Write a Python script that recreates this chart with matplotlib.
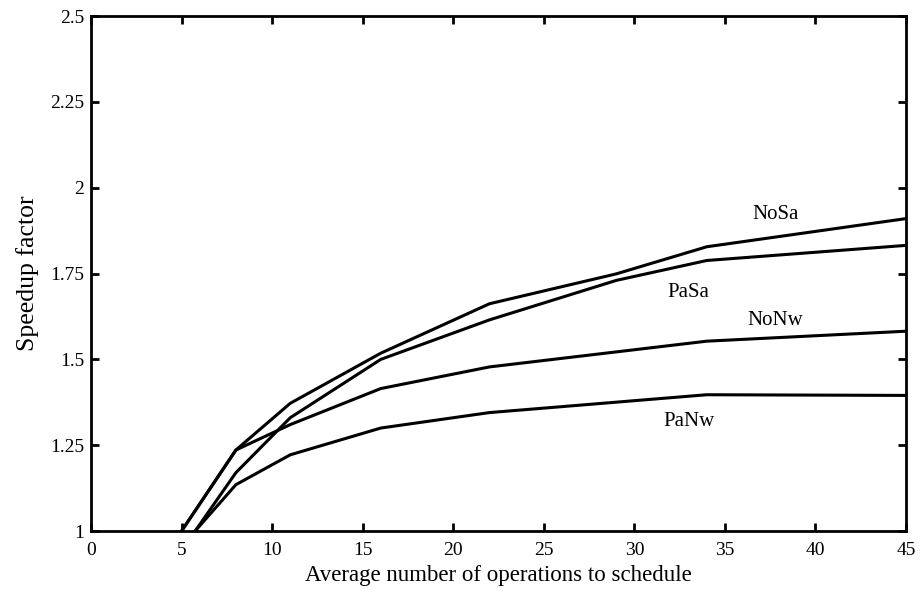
import matplotlib.pyplot as plt

plt.rcParams['font.family'] = ['Liberation Serif', 'DejaVu Serif']

# curve data
nosa_x = [5, 8, 11, 16, 22, 29, 34, 45]
nosa_y = [1.0, 1.236, 1.372, 1.518, 1.662, 1.749, 1.828, 1.91]

pasa_x = [5.75, 8, 11, 16, 22, 29, 34, 45]
pasa_y = [1.0, 1.17, 1.33, 1.50, 1.615, 1.73, 1.788, 1.832]

nonw_x = [5, 8, 11, 16, 22, 34, 45]
nonw_y = [1.0, 1.236, 1.31, 1.415, 1.478, 1.553, 1.582]

panw_x = [5.75, 8, 11, 16, 22, 34, 45]
panw_y = [1.0, 1.135, 1.222, 1.30, 1.345, 1.397, 1.395]

labels = ["NoSa", "PaSa", "NoNw", "PaNw"]
label_x = [37.8, 33.0, 37.8, 33.0]
label_y = [1.922, 1.695, 1.612, 1.318]

xticks = [0, 5, 10, 15, 20, 25, 30, 35, 40, 45]
yticks = [1, 1.25, 1.5, 1.75, 2, 2.25, 2.5]
ytick_labels = ["1", "1.25", "1.5", "1.75", "2", "2.25", "2.5"]

fig = plt.figure(figsize=(9.23, 5.94), dpi=100)
ax = fig.add_axes([0.0986, 0.106, 0.883, 0.867])

for xs, ys in [(nosa_x, nosa_y), (pasa_x, pasa_y), (nonw_x, nonw_y), (panw_x, panw_y)]:
    ax.plot(xs, ys, color='black', linewidth=2.2)

for t, x, y in zip(labels, label_x, label_y):
    ax.text(x, y, t, fontsize=15, ha='center', va='center')

ax.set_xlim(0, 45)
ax.set_ylim(1, 2.5)
ax.set_xticks(xticks)
ax.set_yticks(yticks)
ax.set_yticklabels(ytick_labels)
ax.tick_params(direction='in', length=6, width=2, top=True, right=True,
               labelsize=14)
ax.tick_params(axis='x', pad=8)
ax.tick_params(axis='y', pad=5)
for s in ax.spines.values():
    s.set_linewidth(2)

ax.set_xlabel("Average number of operations to schedule", fontsize=16.5, labelpad=4)
ax.set_ylabel("Speedup factor", fontsize=18.5, labelpad=8)

plt.savefig("out.png", dpi=100)
